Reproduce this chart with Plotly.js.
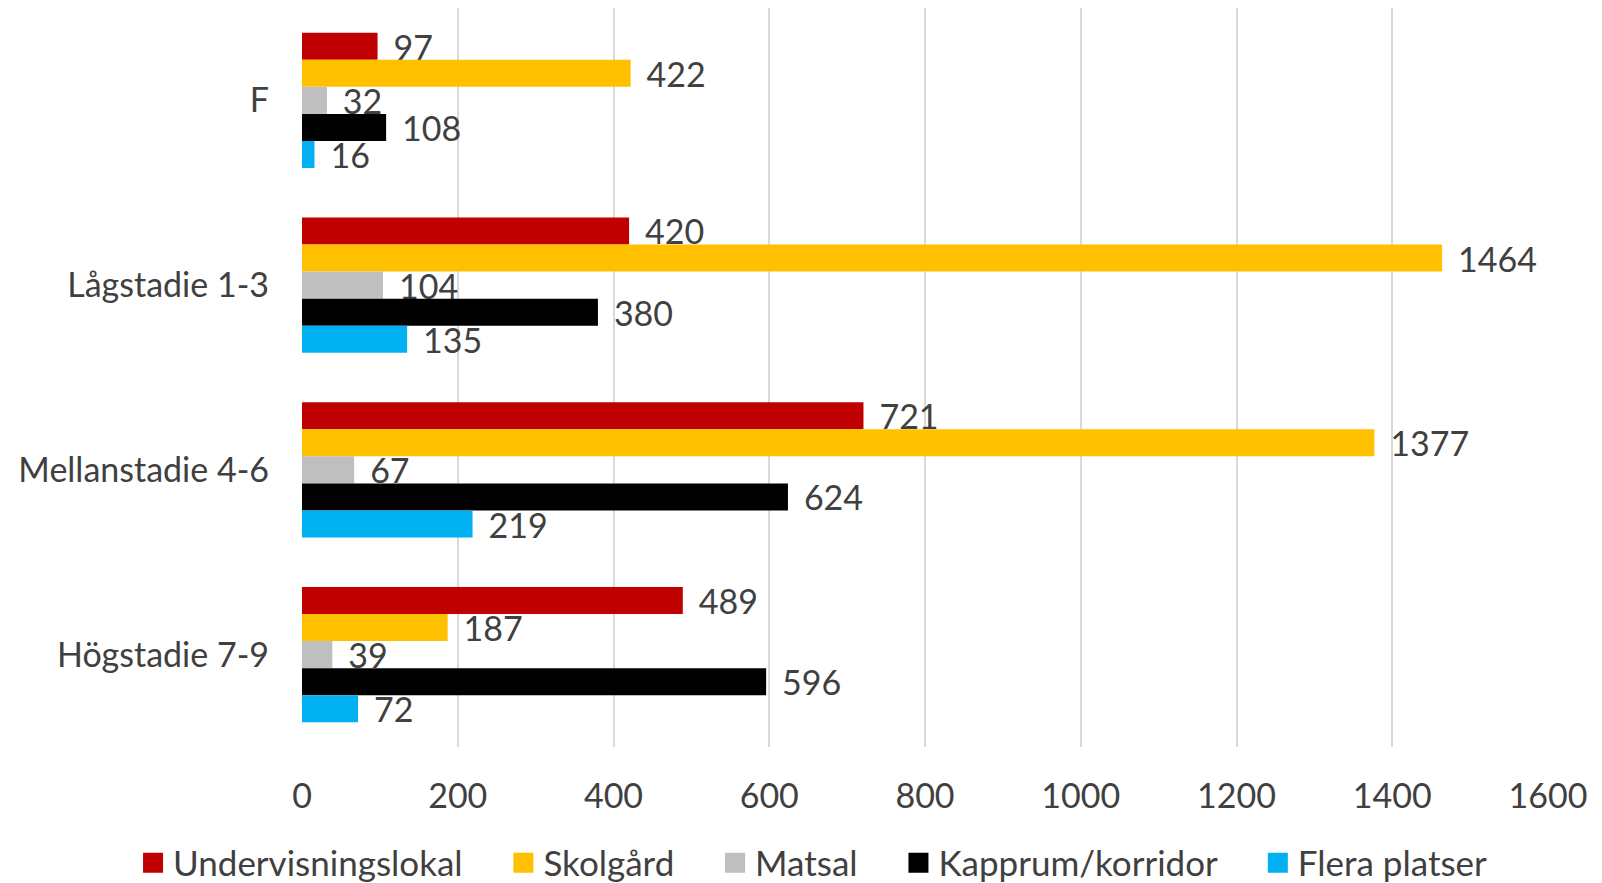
<!DOCTYPE html>
<html>
<head>
<meta charset="utf-8">
<script src="https://cdn.plot.ly/plotly-3.0.1.min.js"></script>
<style>html,body{margin:0;padding:0;background:#fff;}#chart{width:1602px;height:883px;}</style>
</head>
<body>
<div id="chart"></div>
<script>
var categories = ['F', 'Lågstadie 1-3', 'Mellanstadie 4-6', 'Högstadie 7-9'];
var seriesNames = ['Undervisningslokal', 'Skolgård', 'Matsal', 'Kapprum/korridor', 'Flera platser'];
var undervisningslokal = [97, 420, 721, 489];
var skolgard = [422, 1464, 1377, 187];
var matsal = [32, 104, 67, 39];
var kapprum = [108, 380, 624, 596];
var fleraPlatser = [16, 135, 219, 72];
var xTicks = [0, 200, 400, 600, 800, 1000, 1200, 1400, 1600];

var seriesValues = [undervisningslokal, skolgard, matsal, kapprum, fleraPlatser];
var colors = ['#C00000', '#FFC000', '#BFBFBF', '#000000', '#00B0F0'];
var FONT = 'Lato, "Open Sans", sans-serif';
var FS = 34;
var TXT = '#404040';
var NB = '\u00a0';

var data = seriesValues.map(function (vals, i) {
  return {
    type: 'bar',
    orientation: 'h',
    name: seriesNames[i],
    legendgroup: 'g' + i,
    showlegend: false,
    y: categories,
    x: vals,
    marker: {color: colors[i]},
    texttemplate: NB + '\u2009%{x}',
    textposition: 'outside',
    constraintext: 'none',
    cliponaxis: false,
    textfont: {family: FONT, size: FS, color: TXT},
    hoverinfo: 'x+name'
  };
});

// legend entries (square swatches), linked to the bar traces by legendgroup
seriesNames.forEach(function (nm, i) {
  data.push({
    type: 'scatter',
    mode: 'markers',
    name: nm + (i < seriesNames.length - 1 ? NB + NB + NB + NB : ''),
    legendgroup: 'g' + i,
    showlegend: true,
    x: [null],
    y: [null],
    marker: {symbol: 'square', size: 16, color: colors[i], line: {color: colors[i], width: 4}},
    hoverinfo: 'skip'
  });
});

var layout = {
  width: 1602,
  height: 883,
  margin: {l: 302, r: 54, t: 8, b: 136, autoexpand: false},
  paper_bgcolor: '#ffffff',
  plot_bgcolor: '#ffffff',
  font: {family: FONT, size: FS, color: TXT},
  barmode: 'group',
  bargap: 0.267,
  bargroupgap: 0,
  showlegend: true,
  xaxis: {
    range: [0, 1600],
    tickvals: xTicks,
    ticktext: xTicks.map(String),
    showgrid: true,
    gridcolor: '#D9D9D9',
    gridwidth: 1.5,
    zeroline: false,
    showline: false,
    ticks: '',
    ticklabelstandoff: 26,
    tickfont: {family: FONT, size: FS, color: TXT}
  },
  yaxis: {
    autorange: 'reversed',
    type: 'category',
    categoryorder: 'array',
    categoryarray: categories,
    showgrid: false,
    zeroline: false,
    showline: false,
    ticks: '',
    ticklabelstandoff: 32,
    tickfont: {family: FONT, size: FS, color: TXT}
  },
  legend: {
    orientation: 'h',
    xref: 'paper',
    yref: 'paper',
    x: -0.1356,
    xanchor: 'left',
    y: -0.157,
    yanchor: 'middle',
    traceorder: 'normal',
    itemsizing: 'trace',
    font: {family: FONT, size: 35, color: TXT},
    bgcolor: 'rgba(0,0,0,0)'
  }
};

Plotly.newPlot('chart', data, layout, {displayModeBar: false, responsive: false});
</script>
</body>
</html>
